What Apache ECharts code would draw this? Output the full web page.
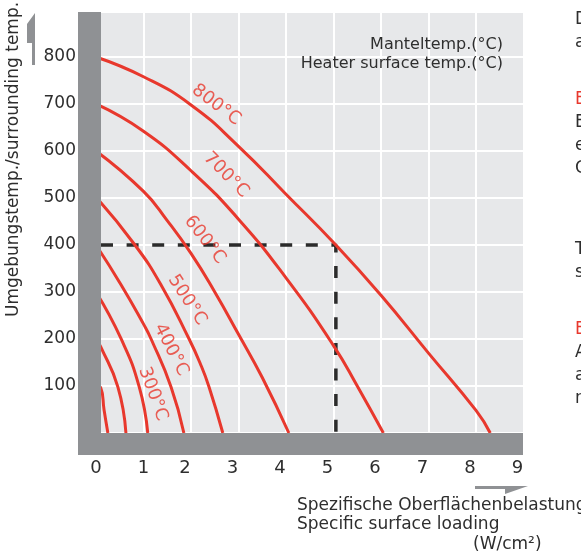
<!DOCTYPE html>
<html>
<head>
<meta charset="utf-8">
<title>Spezifische Oberflächenbelastung</title>
<script src="https://cdn.jsdelivr.net/npm/echarts@6/dist/echarts.min.js"></script>
<style>
  html, body { margin: 0; padding: 0; background: #fff; }
  #chart { width: 581px; height: 553px; }
</style>
</head>
<body>
<div id="chart"></div>
<script>
// surrounding temperature (°C) vs specific surface loading (W/cm²), one curve per heater surface temp
const curve100 = [[0, 100], [0.1, 96], [0.17, 49], [0.25, 0]];
const curve200 = [[0, 200], [0.1, 183], [0.46, 98], [0.63, 0]];
const curve300 = [[0, 300], [0.53, 200], [0.91, 98], [1.09, 0]];
const curve400 = [[0, 400], [0.53, 315], [1.01, 230], [1.16, 200], [1.58, 98], [1.85, 0]];
const curve500 = [[0, 502], [0.82, 400], [1.37, 315], [1.96, 200], [2.19, 149], [2.38, 98], [2.67, 0]];
const curve600 = [[0, 600], [1, 514], [1.5, 452], [2, 382], [2.5, 300], [3, 210], [3.5, 118], [4.06, 0]];
const curve700 = [[0, 700], [1, 642], [2, 558], [3, 455], [4, 330], [5, 186], [5.5, 100], [6.05, 0]];
const curve800 = [[0, 800], [1, 758], [2, 698], [3, 610], [4, 508], [5.05, 400], [6, 293], [7, 170], [8, 48], [8.3, 0]];
const curves = [curve100, curve200, curve300, curve400, curve500, curve600, curve700, curve800];

// curve labels (placed in data coordinates)
const labelText = ['800°C', '700°C', '600°C', '500°C', '400°C', '300°C'];
const labelX = [2.53, 2.74, 2.29, 1.92, 1.58, 1.20];
const labelY = [698, 549, 411, 283, 177, 83];
const labelAngle = [-37, -45, -52, -57, -63, -70];

// example reading: 400 °C surrounding -> 5.05 W/cm² on the 800 °C curve
const guideLoad = 5.05;
const guideTemp = 400;

const xTicks = [0, 1, 2, 3, 4, 5, 6, 7, 8, 9];
const yTickMax = 800;

const red = '#e8382d';
const textColor = '#2e2e2e';
const axisGray = '#8f9194';
const font = 'DejaVu Sans';

const chart = echarts.init(document.getElementById('chart'));

const curveSeries = curves.map(function (pts) {
  return {
    type: 'line',
    data: pts,
    smooth: 0.5,
    showSymbol: false,
    lineStyle: { color: red, width: 3 },
    z: 3
  };
});

const labelSeries = {
  type: 'scatter',
  symbolSize: 0,
  z: 4,
  data: labelText.map(function (t, i) {
    return {
      name: t,
      value: [labelX[i], labelY[i]],
      label: { rotate: labelAngle[i] }
    };
  }),
  label: {
    show: true,
    position: 'inside',
    formatter: '{b}',
    color: red,
    fontSize: 18,
    fontFamily: font
  }
};

const guideSeries = {
  type: 'line',
  data: [[0, guideTemp], [guideLoad, guideTemp], [guideLoad, 0]],
  showSymbol: false,
  lineStyle: { color: '#2b2b2b', width: 3.5, type: [12, 13.6], dashOffset: 20.6 },
  z: 2
};

// letters of the neighbouring text column, cut by the image edge
const sideLetters = [
  ['D', 20, textColor], ['a', 43, textColor],
  ['E', 100, red], ['E', 123, textColor], ['e', 146, textColor], ['C', 169, textColor],
  ['T', 250, textColor], ['s', 273, textColor],
  ['E', 330, red], ['A', 353, textColor], ['a', 376, textColor], ['r', 399, textColor]
];

function txt(text, x, y, opts) {
  opts = opts || {};
  return {
    type: 'text',
    x: x, y: y,
    rotation: opts.rotation || 0,
    z: 100,
    silent: true,
    style: {
      text: text,
      fill: opts.fill || textColor,
      fontSize: opts.size || 17,
      fontFamily: font,
      textAlign: opts.align || 'left',
      textVerticalAlign: 'middle',
      align: opts.align || 'left',
      verticalAlign: 'middle'
    }
  };
}

const graphics = [
  // thick gray axes
  { type: 'rect', z: 100, silent: true, shape: { x: 78, y: 12, width: 23, height: 443 }, style: { fill: axisGray } },
  { type: 'rect', z: 100, silent: true, shape: { x: 78, y: 433, width: 445, height: 22 }, style: { fill: axisGray } },
  // half arrows
  { type: 'polygon', z: 100, silent: true,
    shape: { points: [[35, 13], [35, 65], [32, 65], [32, 43], [27, 43], [27, 24]] }, style: { fill: axisGray } },
  { type: 'polygon', z: 100, silent: true,
    shape: { points: [[475, 486], [528, 486], [505, 494], [505, 489], [475, 489]] }, style: { fill: axisGray } },
  // axis titles
  txt('Umgebungstemp./surrounding temp. (°C)', 14, 317, { rotation: Math.PI / 2 }),
  txt('Spezifische Oberflächenbelastung', 297, 506),
  txt('Specific surface loading', 297, 525),
  txt('(W/cm²)', 473, 545),
  // curve legend
  txt('Manteltemp.(°C)', 503, 45, { align: 'right', size: 16 }),
  txt('Heater surface temp.(°C)', 503, 64, { align: 'right', size: 16 })
].concat(sideLetters.map(function (s) {
  return txt(s[0], 575, s[1], { fill: s[2] });
}));

const option = {
  animation: false,
  backgroundColor: '#ffffff',
  grid: {
    left: 96, right: 57.5, top: 12, bottom: 120,
    show: true, backgroundColor: '#e7e8ea', borderWidth: 0
  },
  xAxis: {
    type: 'value',
    min: 0, max: 9, interval: 1,
    axisLine: { show: false },
    axisTick: { show: false },
    splitLine: { show: true, lineStyle: { color: '#ffffff', width: 2 } },
    axisLabel: {
      margin: 26,
      showMaxLabel: true,
      formatter: function (v) {
        return xTicks.indexOf(v) >= 2 ? '{s|' + v + '}' : '{n|' + v + '}';
      },
      rich: {
        n: { fontSize: 18, fontFamily: font, color: textColor },
        s: { fontSize: 18, fontFamily: font, color: textColor, padding: [0, 12, 0, 0] }
      }
    }
  },
  yAxis: {
    type: 'value',
    min: 0, max: 895.7, interval: 100,
    axisLine: { show: false },
    axisTick: { show: false },
    splitLine: { show: true, lineStyle: { color: '#ffffff', width: 2 } },
    axisLabel: {
      margin: 20,
      fontSize: 17,
      fontFamily: font,
      color: textColor,
      formatter: function (v) { return v > 0 && v <= yTickMax ? String(v) : ''; }
    }
  },
  graphic: { elements: graphics },
  series: curveSeries.concat([guideSeries, labelSeries])
};

chart.setOption(option);
</script>
</body>
</html>
